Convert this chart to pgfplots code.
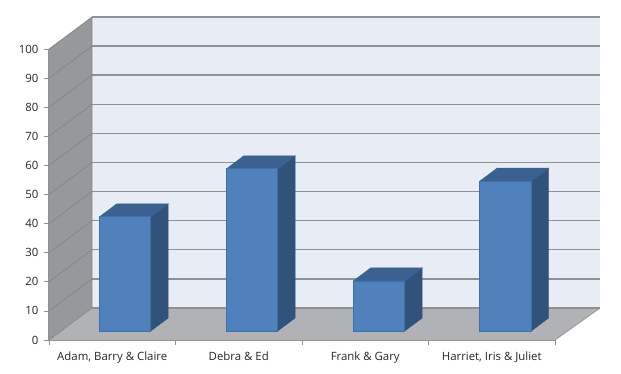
\documentclass[border=0pt]{standalone}
\usepackage{pgfplots}
\pgfplotsset{compat=1.18}
\usepackage{fontspec}
\setmainfont{Open Sans}
\definecolor{wall}{HTML}{E8ECF5}
\definecolor{side}{HTML}{97989B}
\definecolor{flr}{HTML}{B0B2B5}
\definecolor{gridc}{HTML}{8F9092}
\definecolor{barf}{HTML}{4F81BD}
\definecolor{bars}{HTML}{31527A}
\definecolor{bart}{HTML}{3A6190}
\definecolor{bare}{HTML}{3F6FA5}
\pgfplotsset{common/.style={
  scale only axis, width=506pt, height=291pt, at={(49pt,33pt)}, anchor=south west,
  xmin=0, xmax=4, clip=false}}
\begin{document}
\begin{tikzpicture}[x=1pt,y=1pt]
\useasboundingbox (0,0) rectangle (621,373);
\begin{axis}[common, ymin=0, ymax=100,
  axis x line*=bottom, axis y line*=left,
  axis line style={color=gridc, line width=1.4pt, -},
  xtick={0.5,1.5,2.5,3.5},
  xticklabels={{Adam, Barry \& Claire},{Debra \& Ed},{Frank \& Gary},{Harriet, Iris \& Juliet}},
  minor xtick={0,1,2,3,4},
  ytick={0,10,...,100},
  tick style={color=gridc, line width=0.7pt},
  major tick length=5pt, minor tick length=5pt,
  x tick style={draw=none},
  minor x tick style={draw=gridc, line width=0.7pt},
  tick align=outside,
  tick label style={font=\fontsize{11.4}{13}\selectfont, color=black!85},
  /pgf/number format/assume math mode=true,
  xticklabel style={yshift=-3.5pt},
  yticklabel style={xshift=-2pt},
  unbounded coords=jump,
]
\addplot[fill=side, draw=none] coordinates {(0,0)(0.34,11)(0.34,111)(0,100)} -- cycle;
\addplot[fill=wall, draw=none] coordinates {(0.34,11)(4.356,11)(4.356,111)(0.34,111)} -- cycle;
\addplot[fill=flr, draw=none] coordinates {(0,0)(0.34,11)(4.356,11)(4,0)} -- cycle;
% gridlines on the back wall
\addplot[color=gridc, line width=1.4pt] coordinates {
 (0.34,11)(4.356,11)(0,nan)
 (0.34,21)(4.356,21)(0,nan)
 (0.34,31)(4.356,31)(0,nan)
 (0.34,41)(4.356,41)(0,nan)
 (0.34,51)(4.356,51)(0,nan)
 (0.34,61)(4.356,61)(0,nan)
 (0.34,71)(4.356,71)(0,nan)
 (0.34,81)(4.356,81)(0,nan)
 (0.34,91)(4.356,91)(0,nan)
 (0.34,101)(4.356,101)(0,nan)
 (0.34,111)(4.356,111)};
% gridlines on the side wall
\addplot[color=gridc!90!black, line width=0.6pt] coordinates {
 (0,0)(0.34,11)(0,nan)
 (0,10)(0.34,21)(0,nan)
 (0,20)(0.34,31)(0,nan)
 (0,30)(0.34,41)(0,nan)
 (0,40)(0.34,51)(0,nan)
 (0,50)(0.34,61)(0,nan)
 (0,60)(0.34,71)(0,nan)
 (0,70)(0.34,81)(0,nan)
 (0,80)(0.34,91)(0,nan)
 (0,90)(0.34,101)(0,nan)
 (0,100)(0.34,111)(0,nan)
 (0.34,11)(0.34,111)};
% floor right edge
\addplot[color=gridc, line width=0.7pt] coordinates {(4,0)(4.356,11)};
\end{axis}
\begin{axis}[common, ymin=-3.09, ymax=96.91, hide axis]
% side faces
\addplot[fill=bars, draw=bars, line width=0.4pt] coordinates {(0.8045,0)(0.9425,4.5)(0.9425,43.7)(0.8045,39.2)} -- cycle;
\addplot[fill=bars, draw=bars, line width=0.4pt] coordinates {(1.8085,0)(1.9465,4.5)(1.9465,60.2)(1.8085,55.7)} -- cycle;
\addplot[fill=bars, draw=bars, line width=0.4pt] coordinates {(2.8125,0)(2.9505,4.5)(2.9505,21.7)(2.8125,17.2)} -- cycle;
\addplot[fill=bars, draw=bars, line width=0.4pt] coordinates {(3.8125,0)(3.9505,4.5)(3.9505,56)(3.8125,51.5)} -- cycle;
% top faces
\addplot[fill=bart, draw=bart, line width=0.4pt] coordinates {(0.3975,39.2)(0.8045,39.2)(0.9425,43.7)(0.5355,43.7)} -- cycle;
\addplot[fill=bart, draw=bart, line width=0.4pt] coordinates {(1.4015,55.7)(1.8085,55.7)(1.9465,60.2)(1.5395,60.2)} -- cycle;
\addplot[fill=bart, draw=bart, line width=0.4pt] coordinates {(2.4055,17.2)(2.8125,17.2)(2.9505,21.7)(2.5435,21.7)} -- cycle;
\addplot[fill=bart, draw=bart, line width=0.4pt] coordinates {(3.4055,51.5)(3.8125,51.5)(3.9505,56)(3.5435,56)} -- cycle;
% front faces
\addplot[ybar, bar width=51.5pt, bar shift=0pt, fill=barf, draw=bare, line width=0.9pt]
  coordinates {(0.601,39.2)(1.605,55.7)(2.609,17.2)(3.609,51.5)};
\end{axis}
\end{tikzpicture}
\end{document}
